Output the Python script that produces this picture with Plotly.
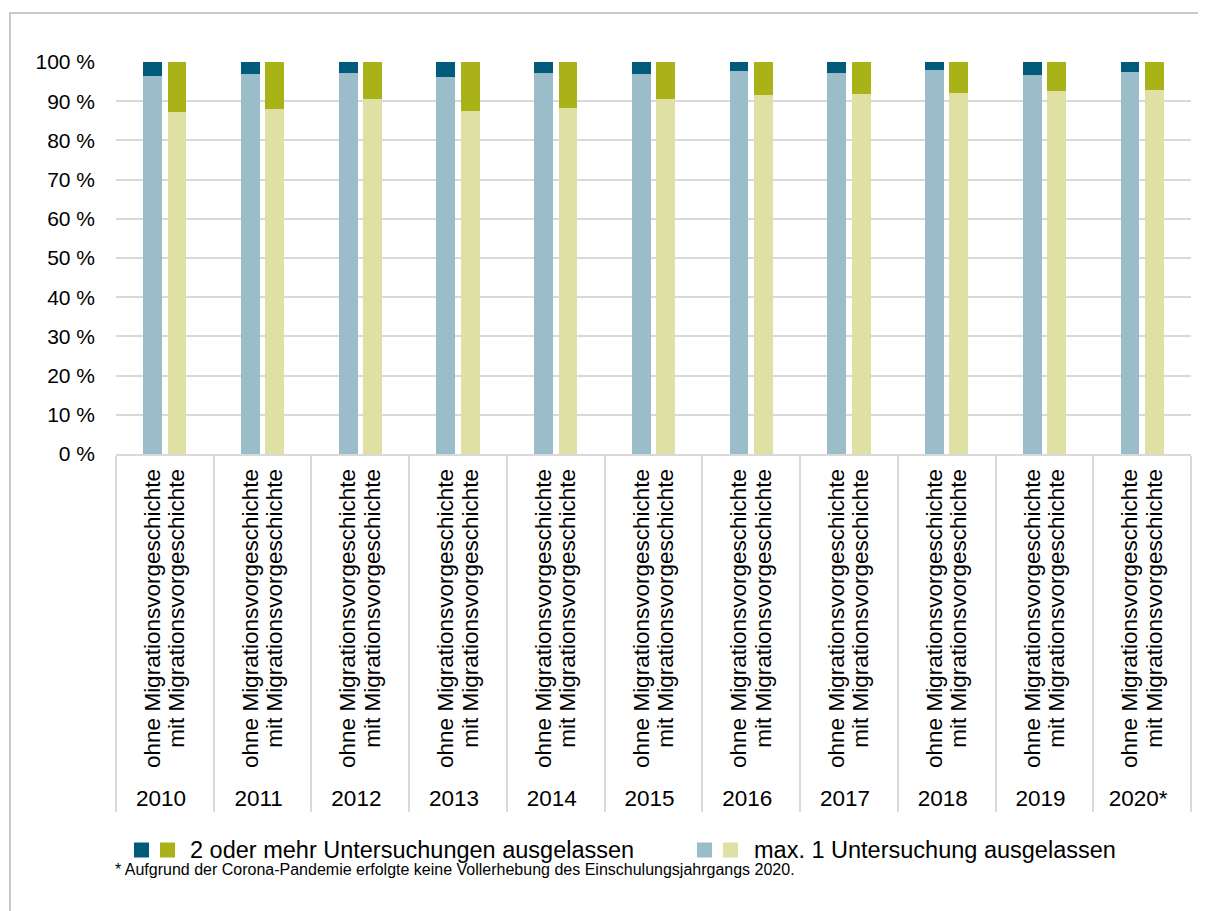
import plotly.graph_objects as go

years = ["2010", "2011", "2012", "2013", "2014", "2015", "2016", "2017", "2018", "2019", "2020*"]
groups = ["ohne Migrationsvorgeschichte", "mit Migrationsvorgeschichte"]

# share (%) with at most 1 examination missed
max1_ohne = [96.4, 96.9, 97.2, 96.2, 97.2, 96.9, 97.7, 97.2, 97.9, 96.7, 97.4]
max1_mit = [87.2, 87.9, 90.5, 87.4, 88.2, 90.5, 91.5, 91.8, 92.1, 92.6, 92.8]
# share (%) with 2 or more examinations missed
two_ohne = [3.6, 3.1, 2.8, 3.8, 2.8, 3.1, 2.3, 2.8, 2.1, 3.3, 2.6]
two_mit = [12.8, 12.1, 9.5, 12.6, 11.8, 9.5, 8.5, 8.2, 7.9, 7.4, 7.2]

y_ticks = [0, 10, 20, 30, 40, 50, 60, 70, 80, 90, 100]
y_ticktext = ["0 %", "10 %", "20 %", "30 %", "40 %", "50 %", "60 %", "70 %", "80 %", "90 %", "100 %"]

legend_labels = ["2 oder mehr Untersuchungen ausgelassen", "max. 1 Untersuchung ausgelassen"]
footnote = "* Aufgrund der Corona-Pandemie erfolgte keine Vollerhebung des Einschulungsjahrgangs 2020."

C_DARK_BLUE = "#005C7A"
C_LIGHT_BLUE = "#9BBDC9"
C_DARK_GREEN = "#A9B216"
C_LIGHT_GREEN = "#DFE0A3"
GRID = "#D9D9D9"
FONT = "Liberation Sans, Arial, sans-serif"

# spacer sub-categories (empty labels) to place the two bars near the group centre
pad_l, pad_r = " ", "  "
slots = [pad_l, groups[0], groups[1], pad_r]

fig = go.Figure()

# helper trace establishing category order (no visible marks)
fig.add_trace(go.Bar(
    x=[[y for y in years for _ in slots], [s for _ in years for s in slots]],
    y=[None] * (len(years) * len(slots)),
    showlegend=False, hoverinfo="skip",
))

x_cat = [[y for y in years for _ in groups], [g for _ in years for g in groups]]
max1_vals = [v for pair in zip(max1_ohne, max1_mit) for v in pair]
two_vals = [v for pair in zip(two_ohne, two_mit) for v in pair]

fig.add_trace(go.Bar(
    x=x_cat, y=max1_vals, name=legend_labels[1], width=0.77,
    marker=dict(color=[C_LIGHT_BLUE, C_LIGHT_GREEN] * len(years), line=dict(width=0)),
    showlegend=False,
))
fig.add_trace(go.Bar(
    x=x_cat, y=two_vals, name=legend_labels[0], width=0.77,
    marker=dict(color=[C_DARK_BLUE, C_DARK_GREEN] * len(years), line=dict(width=0)),
    showlegend=False,
))

# page offset (browser body margin of 8 px)
OFF = 8
W, H = 1198, 903
L, R, T, B = 116 - OFF, 15, 62 - OFF, 457
pw, ph = W - L - R, H - T - B


def px(x):
    return (x - OFF - L) / pw


def py(y):
    return (H - B - (y - OFF)) / ph


shapes = [
    # outer frame
    dict(type="rect", xref="paper", yref="paper", x0=px(10), x1=px(1230), y0=py(13), y1=py(940),
         line=dict(color="#C8C8C8", width=2), fillcolor="rgba(0,0,0,0)", layer="below"),
]
annotations = []

# manual legend
leg_y = 850
for (x0, col) in [(134, C_DARK_BLUE), (160, C_DARK_GREEN), (697, C_LIGHT_BLUE), (723, C_LIGHT_GREEN)]:
    shapes.append(dict(type="rect", xref="paper", yref="paper", x0=px(x0), x1=px(x0 + 15),
                       y0=py(leg_y + 7.5), y1=py(leg_y - 7.5), fillcolor=col, line=dict(width=0)))
for (x0, txt) in [(188, legend_labels[0]), (752, legend_labels[1])]:
    annotations.append(dict(xref="paper", yref="paper", x=px(x0), y=py(leg_y), text=txt,
                            showarrow=False, xanchor="left", yanchor="middle",
                            font=dict(family=FONT, size=23.5, color="#000000")))
annotations.append(dict(xref="paper", yref="paper", x=px(113), y=py(869), text=footnote,
                        showarrow=False, xanchor="left", yanchor="middle",
                        font=dict(family=FONT, size=16, color="#000000")))

fig.update_layout(
    width=W, height=H,
    margin=dict(l=L, r=R, t=T, b=B, autoexpand=False),
    barmode="stack",
    plot_bgcolor="white", paper_bgcolor="white",
    font=dict(family=FONT, color="#000000"),
    shapes=shapes, annotations=annotations,
    showlegend=False,
)
fig.update_xaxes(
    type="multicategory", tickangle=-90, tickmode="linear", tick0=0, dtick=1,
    tickfont=dict(family=FONT, size=22.5, color="#000000"),
    showline=True, linecolor=GRID, linewidth=2,
    showdividers=True, dividercolor=GRID, dividerwidth=2,
    ticks="", showgrid=False, ticklabelstandoff=4,
)
fig.update_yaxes(
    range=[0, 100], tickmode="array", tickvals=y_ticks, ticktext=y_ticktext,
    tickfont=dict(family=FONT, size=21, color="#000000"),
    showgrid=True, gridcolor=GRID, gridwidth=2,
    zeroline=False, showline=False, ticks="", ticklabelstandoff=20,
)

fig.write_html("out.html")
